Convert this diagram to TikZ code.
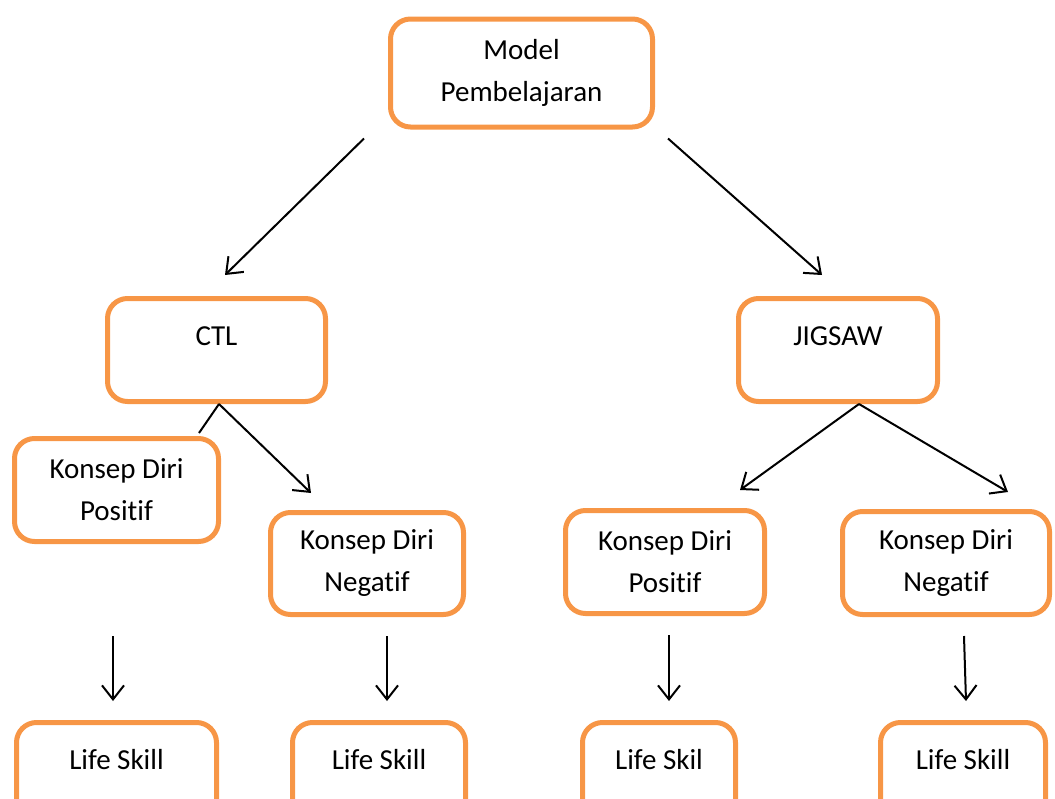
\documentclass[tikz,border=0pt]{standalone}
\usepackage{fontspec}
\setmainfont{Carlito}[RawFeature=-liga]
\usetikzlibrary{arrows.meta}
\definecolor{boxorange}{HTML}{F79646}
\tikzset{
  box/.style={draw=boxorange, line width=5pt, rounded corners=20pt, align=center,
    inner sep=0pt, font=\fontsize{29}{42}\selectfont},
  arr/.style={line width=2pt, -{Straight Barb[length=14pt,width=22pt,line width=2pt]}}
}
\newcommand{\lift}[1]{\raisebox{14pt}[\height][\depth]{#1}}

\begin{document}
\begin{tikzpicture}[x=1pt,y=1pt]
\useasboundingbox (0,0) rectangle (1055,-798);
\node[box, minimum width=262, minimum height=108] (model) at (521.5,-73) {Model\\Pembelajaran};
\node[box, minimum width=218, minimum height=103] (ctl) at (216.5,-350) {\lift{CTL}};
\node[box, minimum width=199, minimum height=103] (jigsaw) at (838,-350) {\lift{JIGSAW}};
\node[box, minimum width=204, minimum height=103] (kdp1) at (116.5,-490) {Konsep Diri\\Positif};
\node[box, minimum width=193, minimum height=102] (kdn1) at (367,-563.5) {Konsep Diri\\Negatif};
\node[box, minimum width=199, minimum height=103] (kdp2) at (665,-562) {Konsep Diri\\Positif};
\node[box, minimum width=207, minimum height=103] (kdn2) at (946,-563) {Konsep Diri\\Negatif};
\node[box, minimum width=200, minimum height=103] (ls1) at (116.5,-774) {\lift{Life Skill}};
\node[box, minimum width=173, minimum height=103] (ls2) at (379,-774) {\lift{Life Skill}};
\node[box, minimum width=153, minimum height=103] (ls3) at (659,-774) {\lift{Life Skil}};
\node[box, minimum width=165, minimum height=103] (ls4) at (963,-774) {\lift{Life Skill}};
% top level
\draw[arr] ([shift={(-24,-9)}]model.south west) -- ([shift={(8.5,21)}]ctl.north);
\draw[arr] ([shift={(13,-9)}]model.south east) -- ([shift={(-16,21)}]jigsaw.north);
% second level
\draw[line width=2pt] ([xshift=2.5pt]ctl.south) -- ([shift={(-22,3)}]kdp1.north east);
\draw[arr] ([xshift=2.5pt]ctl.south) -- ([shift={(-56,17)}]kdn1.north);
\draw[arr] ([xshift=21pt]jigsaw.south) -- ([shift={(75,18)}]kdp2.north);
\draw[arr] ([xshift=21pt]jigsaw.south) -- ([shift={(62,17)}]kdn2.north);
% life skill
\draw[arr] ([shift={(-3.5,-92)}]kdp1.south) -- ([shift={(-3.5,19)}]ls1.north);
\draw[arr] ([shift={(20,-19)}]kdn1.south) -- ([shift={(8,19)}]ls2.north);
\draw[arr] ([shift={(4,-19)}]kdp2.south) -- ([shift={(10,19)}]ls3.north);
\draw[arr] ([shift={(18,-19)}]kdn2.south) -- ([shift={(3,19)}]ls4.north);
\end{tikzpicture}
\end{document}
